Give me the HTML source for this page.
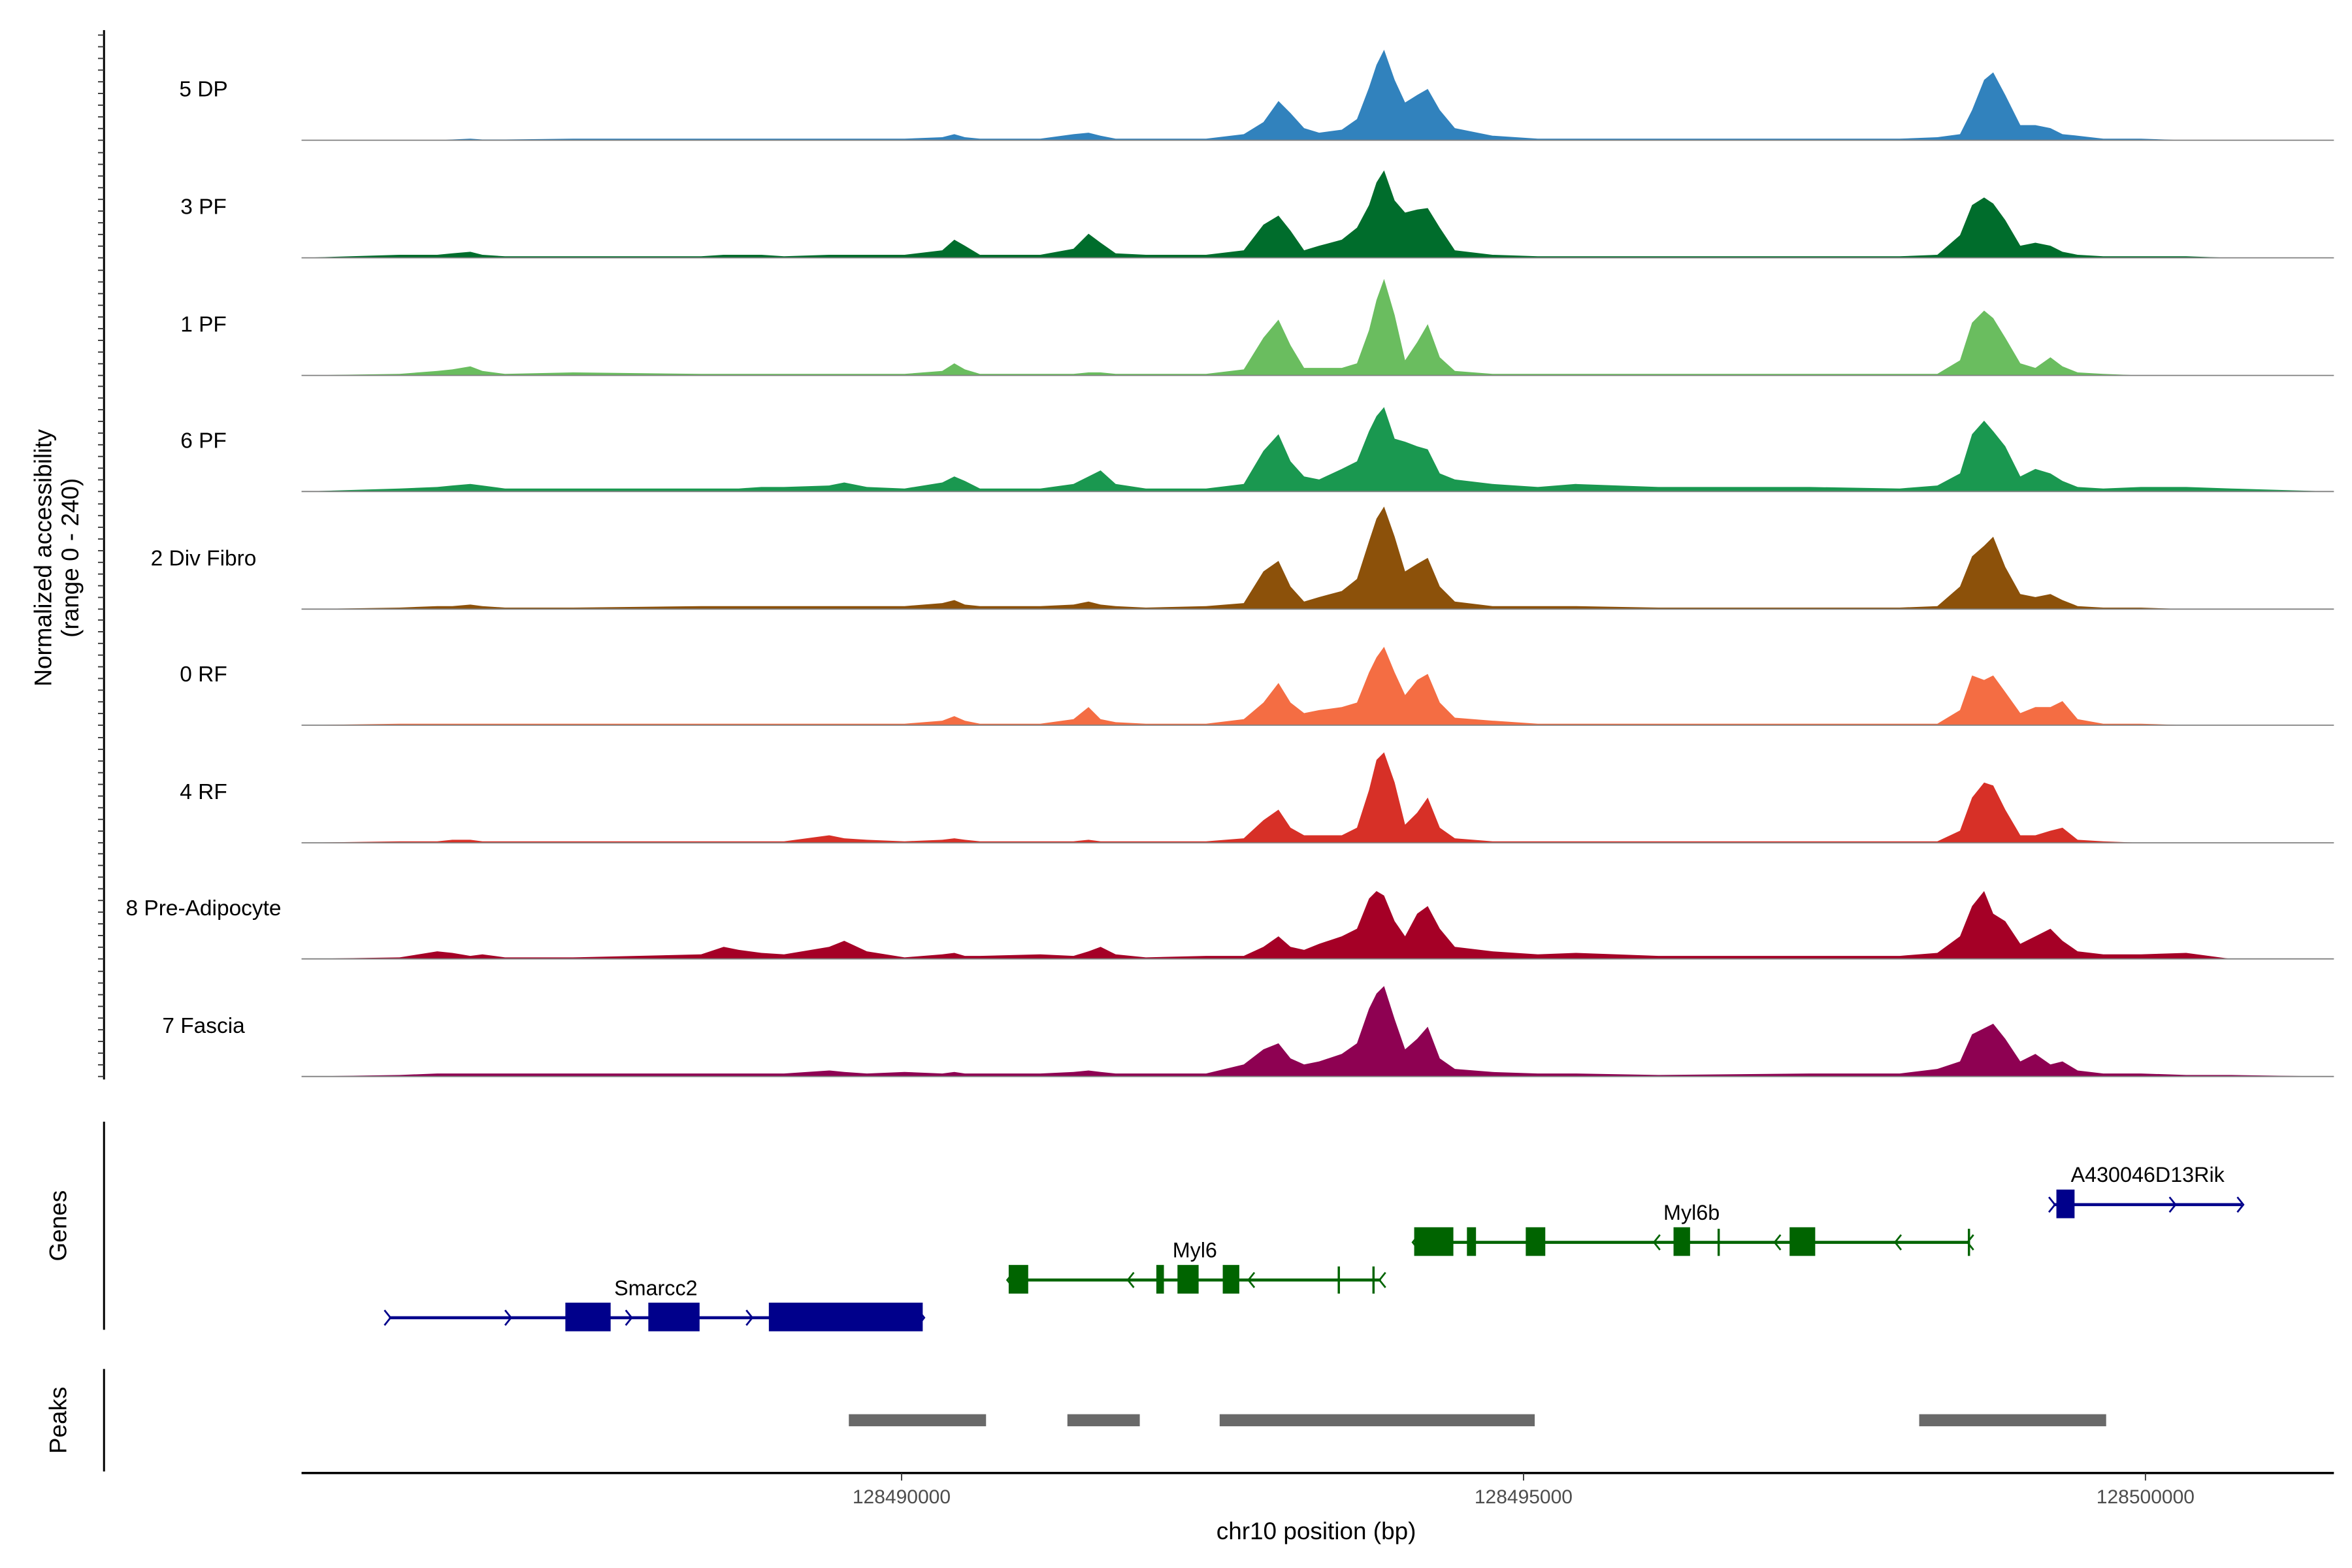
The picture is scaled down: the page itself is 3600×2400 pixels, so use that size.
<!DOCTYPE html>
<html><head><meta charset="utf-8"><style>
html,body{margin:0;padding:0;background:#fff}
svg{display:block}
text{font-family:"Liberation Sans",sans-serif}
</style></head><body>
<svg id="chart" width="3600" height="2400" viewBox="0 0 1560 1040" xmlns="http://www.w3.org/2000/svg">
<rect width="1560" height="1040" fill="#fff"/>
<g id="tracks"></g>
<g id="leftaxis"></g>
<text transform="translate(34,370) rotate(-90)" text-anchor="middle" font-size="16" fill="#000">Normalized accessibility</text>
<text transform="translate(52,370) rotate(-90)" text-anchor="middle" font-size="16" fill="#000">(range 0 - 240)</text>
<g id="genes"></g>
<line x1="69" y1="744" x2="69" y2="882" stroke="#000" stroke-width="1.3"/>
<text transform="translate(44,813) rotate(-90)" text-anchor="middle" font-size="16">Genes</text>
<g id="peaks"></g>
<line x1="69" y1="908" x2="69" y2="976" stroke="#000" stroke-width="1.3"/>
<text transform="translate(44,942) rotate(-90)" text-anchor="middle" font-size="16">Peaks</text>
<g id="xaxis"></g>
<text x="873" y="1021" text-anchor="middle" font-size="16">chr10 position (bp)</text>
</svg>
<script>
const trackNames = ["5 DP","3 PF","1 PF","6 PF","2 Div Fibro","0 RF","4 RF","8 Pre-Adipocyte","7 Fascia"];
const trackColors = ["#3182BD","#006D2C","#6ABD5F","#1A9850","#8C510A","#F46D43","#D73027","#A50026","#8E0152"];
const positions = [128485176,128485964,128486267,128486388,128486533,128486630,128486812,128487358,128488388,128488570,128488691,128488873,128489055,128489418,128489539,128489721,128490024,128490327,128490424,128490509,128490630,128491115,128491382,128491503,128491600,128491721,128491964,128492448,128492751,128492909,128493030,128493127,128493236,128493357,128493539,128493661,128493758,128493818,128493879,128493964,128494048,128494145,128494230,128494327,128494448,128494751,128495115,128495418,128496085,128497297,128498024,128498327,128498509,128498606,128498703,128498776,128498873,128498994,128499115,128499236,128499333,128499455,128499661,128499964,128500327,128500691,128501515];
const cov5DP = [0,0,0,0.5,1,0.5,0.5,1,1,1,1,1,1,1,1,1,1,2,4,2,1,1,4,5,3,1,1,1,4,12,26,18,8,5,7,14,35,50,60,40,25,30,34,20,8,3,1,1,1,1,1,2,4,20,40,45,30,10,10,8,4,3,1,1,0,0,0];
const cov3PF = [0,2,2,3,4,2,1,1,1,2,2,2,1,2,2,2,2,5,12,8,2,2,6,16,10,3,2,2,5,22,28,18,5,8,12,20,35,50,58,38,30,32,33,20,5,2,1,1,1,1,1,2,15,35,40,36,25,8,10,8,4,2,1,1,1,0,0];
const cov1PF = [0,1,3,4,6,3,1,2,1,1,1,1,1,1,1,1,1,3,8,4,1,1,1,2,2,1,1,1,4,25,37,20,5,5,5,8,30,50,64,40,10,22,34,12,3,1,1,1,1,1,1,1,10,35,43,38,25,8,5,12,6,2,1,0,0,0,0];
const cov6PF = [0,2,3,4,5,4,2,2,2,2,2,3,3,4,6,3,2,6,10,7,2,2,5,10,14,5,2,2,5,27,38,20,10,8,15,20,40,50,56,35,33,30,28,12,8,5,3,5,3,3,2,4,12,38,47,40,30,10,15,12,7,3,2,3,3,2,0];
const cov2DivFibro = [0,1,2,2,3,2,1,1,2,2,2,2,2,2,2,2,2,4,6,3,2,2,3,5,3,2,1,2,4,25,32,15,5,8,12,20,45,60,68,48,25,30,34,15,5,2,2,2,1,1,1,2,15,35,42,48,28,10,8,10,6,2,1,1,0,0,0];
const cov0RF = [0,1,1,1,1,1,1,1,1,1,1,1,1,1,1,1,1,3,6,3,1,1,4,12,4,2,1,1,4,15,28,15,8,10,12,15,35,45,52,35,20,30,34,15,5,3,1,1,1,1,1,1,10,33,30,33,22,8,12,12,16,4,1,1,0,0,0];
const cov4RF = [0,1,1,2,2,1,1,1,1,1,1,1,1,5,3,2,1,2,3,2,1,1,1,2,1,1,1,1,3,15,22,10,5,5,5,10,35,55,60,40,12,20,30,10,3,1,1,1,1,1,1,1,8,30,40,38,22,5,5,8,10,2,1,0,0,0,0];
const cov8PreAdipo = [0,1,5,4,2,3,1,1,3,8,6,4,3,8,12,5,1,3,4,2,2,3,2,5,8,3,1,2,2,8,15,8,6,10,15,20,40,45,42,25,15,30,35,20,8,5,3,4,2,2,2,4,15,35,45,30,25,10,15,20,12,5,3,3,4,0,0];
const cov7Fascia = [0,1,2,2,2,2,2,2,2,2,2,2,2,4,3,2,3,2,3,2,2,2,3,4,3,2,2,2,8,18,22,12,8,10,15,22,45,55,60,38,18,25,33,12,5,3,2,2,1,2,2,5,10,28,32,35,25,10,15,8,10,4,2,2,1,1,0];
const coverage = [cov5DP,cov3PF,cov1PF,cov6PF,cov2DivFibro,cov0RF,cov4RF,cov8PreAdipo,cov7Fascia];
const xTicks = [128490000,128495000,128500000];
const peakStarts = [128489576,128491333,128492557,128498181];
const peakEnds = [128490679,128491915,128495090,128499684];
const geneNames = ["Smarcc2","Myl6","Myl6b","A430046D13Rik"];
const geneStarts = [128485879,128490861,128494121,128499260];
const geneEnds = [128490170,128493854,128498581,128500775];
const geneStrands = ["+","-","-","+"];
const geneRows = [0,1,2,3];
const exonGene = [0,0,0,1,1,1,1,2,2,2,2,2,3];
const exonStarts = [128487297,128487964,128488933,128490861,128492048,128492218,128492582,128494121,128494545,128495018,128496206,128497139,128499284];
const exonEnds = [128487661,128488376,128490170,128491018,128492109,128492388,128492715,128494436,128494618,128495175,128496339,128497345,128499430];
const utrTickGene = [1,1,2,2];
const utrTickPos = [128493515,128493794,128496569,128498581];

const NS="http://www.w3.org/2000/svg";
const bpMin=128485176, bpMax=128501515, xMin=200, xMax=1548;
const X = bp => xMin + (bp-bpMin)/(bpMax-bpMin)*(xMax-xMin);
const yMaxVal = 80, trackH = 80;
const baselines = [93,171,249,326,404,481,559,636,714];
function el(tag, attrs, parent){const e=document.createElementNS(NS,tag);for(const k in attrs)e.setAttribute(k,attrs[k]);parent.appendChild(e);return e;}

const tg=document.getElementById('tracks');
coverage.forEach((vals,i)=>{
  const b=baselines[i];
  let d=`M${X(positions[0])},${b}`;
  vals.forEach((v,j)=>{d+=` L${X(positions[j]).toFixed(2)},${(b - v/yMaxVal*trackH).toFixed(2)}`;});
  d+=` L${X(positions[positions.length-1])},${b} Z`;
  const p=el('path',{d:d,fill:trackColors[i]},tg);
  
  
  const ln=el('line',{x1:xMin,x2:xMax,y1:b,y2:b,stroke:'#808080','stroke-width':0.8},tg);
  
  
  const t=el('text',{x:135,y:b-29,'text-anchor':'middle','font-size':14.5,fill:'#000'},tg);
  t.textContent=trackNames[i];
  
  
});

const la=document.getElementById('leftaxis');
const axl=el('line',{x1:69,y1:20,x2:69,y2:716,stroke:'#000','stroke-width':1.3},la);


for(let i=0;i<9;i++){
  for(let k=0;k<10;k++){
    const y=baselines[i]-k*7.75;
    const tk=el('line',{x1:65,x2:69,y1:y,y2:y,stroke:'#333','stroke-width':0.8},la);
    
    
  }
}

const gg=document.getElementById('genes');
const rowY=[874,849,824,799];
const geneColor = s => s==="+" ? "#00008B" : "#006400";
function chevron(x,y,dir,col){
  const d = dir==="+" ? `M${x-3},${y-5} L${x+1},${y} L${x-3},${y+5}` : `M${x+3},${y-5} L${x-1},${y} L${x+3},${y+5}`;
  const c=el('path',{d:d,fill:'none',stroke:col,'stroke-width':1.2},gg);
  
  
}
geneNames.forEach((n,i)=>{
  const y=rowY[geneRows[i]], col=geneColor(geneStrands[i]);
  const x1=X(geneStarts[i]), x2=X(geneEnds[i]);
  const l=el('line',{x1:x1,x2:x2,y1:y,y2:y,stroke:col,'stroke-width':2},gg);
  
  
  const step=80;
  for(let x=x1;x<=x2-20;x+=step) chevron(x,y,geneStrands[i],col);
  chevron(x2,y,geneStrands[i],col);
  const t=el('text',{x:(x1+x2)/2,y:y-15,'text-anchor':'middle','font-size':14,fill:'#000'},gg);
  t.textContent=n;
  
  
});
utrTickPos.forEach((bp,i)=>{
  const y=rowY[geneRows[utrTickGene[i]]];
  const l=el('line',{x1:X(bp),x2:X(bp),y1:y-9,y2:y+9,stroke:'#006400','stroke-width':1.5},gg);
  
  
});
exonStarts.forEach((s,i)=>{
  const g=exonGene[i], y=rowY[geneRows[g]];
  const r=el('rect',{x:X(s),y:y-10,width:Math.max(2,X(exonEnds[i])-X(s)),height:19,fill:geneColor(geneStrands[g])},gg);
  
  
});

const pg=document.getElementById('peaks');
peakStarts.forEach((s,i)=>{
  const r=el('rect',{x:X(s),y:938,width:X(peakEnds[i])-X(s),height:8,fill:'#696969'},pg);
  
  
});

const xg=document.getElementById('xaxis');
const xl=el('line',{x1:xMin,x2:xMax,y1:977,y2:977,stroke:'#000','stroke-width':1.5},xg);


xTicks.forEach(v=>{
  const x=X(v);
  const t=el('line',{x1:x,x2:x,y1:977,y2:982,stroke:'#333','stroke-width':0.8},xg);
  
  
  const lb=el('text',{x:x,y:997,'text-anchor':'middle','font-size':13,fill:'#4D4D4D'},xg);
  lb.textContent=String(v);
  
  
});
</script>
</body></html>
